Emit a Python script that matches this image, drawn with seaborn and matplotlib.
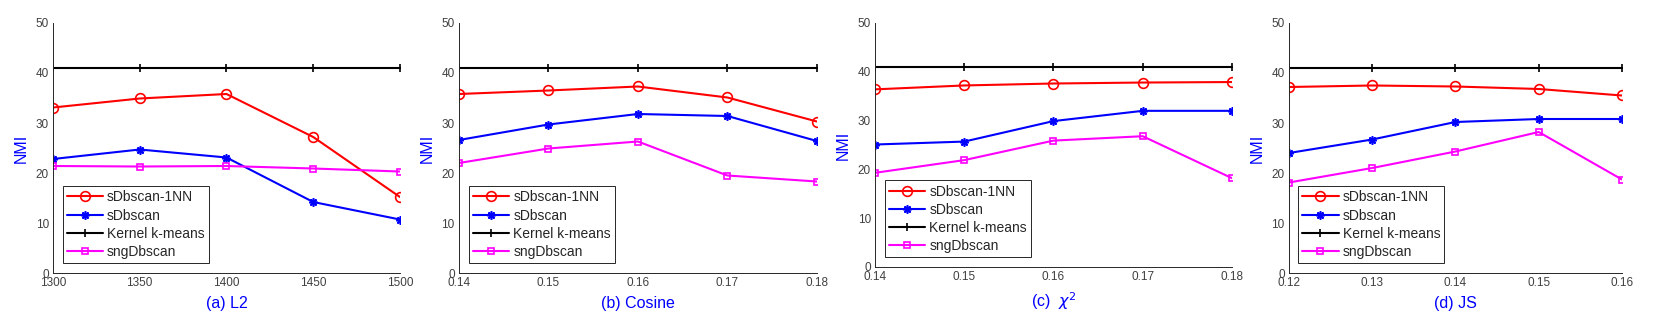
import numpy as np
import pandas as pd
import seaborn as sns
import matplotlib.pyplot as plt

# x values (parameter eps) for each panel
x_l2 = [1300, 1350, 1400, 1450, 1500]
x_cos = [0.14, 0.15, 0.16, 0.17, 0.18]
x_chi2 = [0.14, 0.15, 0.16, 0.17, 0.18]
x_js = [0.12, 0.13, 0.14, 0.15, 0.16]

# NMI values
l2_1nn = [33.1, 34.9, 35.8, 27.2, 15.2]
l2_sdb = [22.8, 24.7, 23.1, 14.2, 10.7]
l2_kkm = [40.9, 40.9, 40.9, 40.9, 40.9]
l2_sng = [21.4, 21.3, 21.4, 20.9, 20.3]

cos_1nn = [35.8, 36.5, 37.3, 35.1, 30.3]
cos_sdb = [26.6, 29.7, 31.8, 31.4, 26.4]
cos_kkm = [40.9, 40.9, 40.9, 40.9, 40.9]
cos_sng = [22.0, 24.9, 26.3, 19.5, 18.3]

chi2_1nn = [36.4, 37.2, 37.6, 37.8, 37.9]
chi2_sdb = [25.1, 25.7, 29.9, 32.0, 32.0]
chi2_kkm = [41.0, 41.0, 41.0, 41.0, 41.0]
chi2_sng = [19.3, 21.9, 25.9, 26.8, 18.2]

js_1nn = [37.2, 37.5, 37.3, 36.8, 35.5]
js_sdb = [24.0, 26.7, 30.2, 30.8, 30.8]
js_kkm = [41.0, 41.0, 41.0, 41.0, 41.0]
js_sng = [18.1, 21.0, 24.3, 28.2, 18.7]

methods = ["sDbscan-1NN", "sDbscan", "Kernel k-means", "sngDbscan"]
titles = ["(a) L2", "(b) Cosine", "(c)  $\\chi^2$", "(d) JS"]

panels = [
    (x_l2, [l2_1nn, l2_sdb, l2_kkm, l2_sng]),
    (x_cos, [cos_1nn, cos_sdb, cos_kkm, cos_sng]),
    (x_chi2, [chi2_1nn, chi2_sdb, chi2_kkm, chi2_sng]),
    (x_js, [js_1nn, js_sdb, js_kkm, js_sng]),
]

colors = ["#ff0000", "#0000ff", "#000000", "#ff00ff"]
markers = ["o", (8, 2, 0), "+", "s"]
msizes = [7, 6, 6, 5]
mfaces = ["none", "#0000ff", "#000000", "none"]

sns.set_theme(style="white")
plt.rcParams["font.family"] = ["Liberation Sans", "DejaVu Sans"]

fig = plt.figure(figsize=(16.61, 3.15), dpi=100)
rects = [
    [0.0319, 0.1333, 0.2089, 0.7937],
    [0.2763, 0.1333, 0.2155, 0.7937],
    [0.5268, 0.1524, 0.2149, 0.7746],
    [0.7760, 0.1333, 0.2005, 0.7937],
]

for i, (xs, series) in enumerate(panels):
    ax = fig.add_axes(rects[i])
    for j, ys in enumerate(series):
        df = pd.DataFrame({"x": xs, "y": ys})
        sns.lineplot(data=df, x="x", y="y", ax=ax, color=colors[j],
                     marker=markers[j], markersize=msizes[j],
                     markerfacecolor=mfaces[j], markeredgecolor=colors[j],
                     markeredgewidth=1.2, linewidth=1.5, label=methods[j])
    ax.set_xlim(xs[0], xs[-1])
    ax.set_ylim(0, 50)
    ax.set_xticks(xs)
    if i == 0:
        ax.set_xticklabels([str(v) for v in xs])
    else:
        ax.set_xticklabels(["%.2f" % v for v in xs])
    ax.set_yticks([0, 10, 20, 30, 40, 50])
    ax.set_xlabel(titles[i], color="#0000ff", fontsize=11.5, labelpad=5)
    ax.set_ylabel("NMI", color="#0000ff", fontsize=11.5, labelpad=5)
    ax.tick_params(direction="in", length=3, width=0.7, labelsize=8.5,
                   colors="#262626", labelcolor="#404040", pad=3)
    for s in ["top", "right"]:
        ax.spines[s].set_visible(False)
    for s in ["left", "bottom"]:
        ax.spines[s].set_color("#262626")
        ax.spines[s].set_linewidth(0.7)
    leg = ax.legend(loc="lower left", bbox_to_anchor=(0.028, 0.04),
                    borderaxespad=0, fontsize=10, handlelength=2.6,
                    labelspacing=0.3, handletextpad=0.3, fancybox=False,
                    framealpha=1, borderpad=0.3)
    leg.get_frame().set_edgecolor("#262626")
    leg.get_frame().set_linewidth(0.7)

fig.savefig("out.png", dpi=100)
